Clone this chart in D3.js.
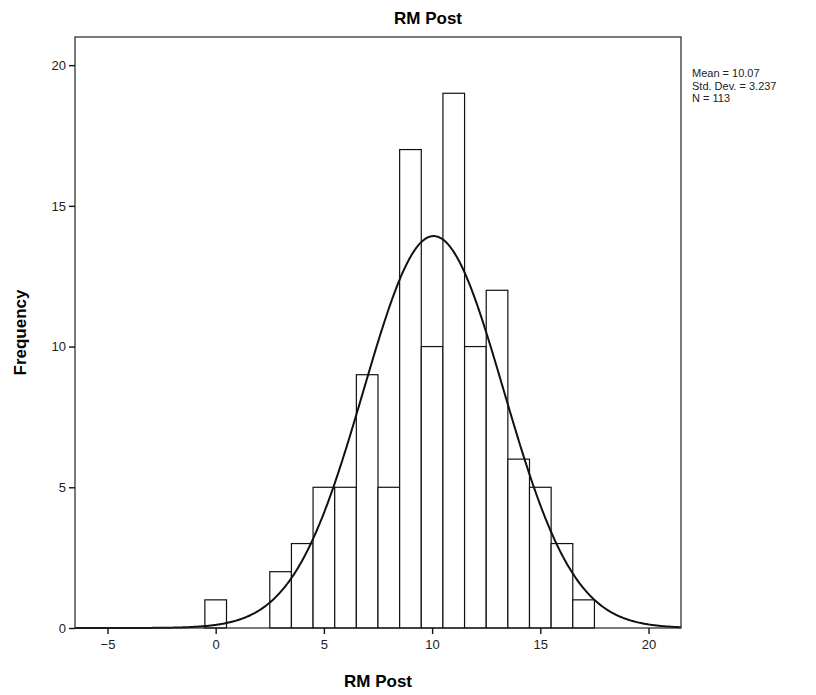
<!DOCTYPE html>
<html><head><meta charset="utf-8">
<script src="https://cdn.jsdelivr.net/npm/d3@7/dist/d3.min.js"></script>
<style>body{margin:0;background:#fff}svg{display:block}</style>
</head><body>
<script>
const binCenters = [0,1,2,3,4,5,6,7,8,9,10,11,12,13,14,15,16,17];
const counts     = [1,0,0,2,3,5,5,9,5,17,10,19,10,12,6,5,3,1];
const xTicks = [-5,0,5,10,15,20];
const yTicks = [0,5,10,15,20];
const statsLines = ["Mean = 10.07","Std. Dev. = 3.237","N = 113"];
const mean = 10.07, sd = 3.237, n = 113, binWidth = 1;

const W = 816, H = 695;
const m = {left:75, right:681, top:37, bottom:628};
const svg = d3.select("body").append("svg").attr("width",W).attr("height",H);
const x = d3.scaleLinear().domain([-6.5,21.5]).range([m.left,m.right]);
const y = d3.scaleLinear().domain([0,21]).range([m.bottom,m.top]);

// bars
svg.append("g").selectAll("rect").data(binCenters.map((c,i)=>({c,v:counts[i]})).filter(d=>d.v>0))
  .join("rect")
  .attr("x",d=>x(d.c-binWidth/2)).attr("width",d=>x(d.c+binWidth/2)-x(d.c-binWidth/2))
  .attr("y",d=>y(d.v)).attr("height",d=>y(0)-y(d.v))
  .attr("fill","#fff").attr("stroke","#111").attr("stroke-width",1.2);

// normal curve
const pts = d3.range(-6.5,21.5001,0.05).map(v=>[v, n*binWidth/(sd*Math.sqrt(2*Math.PI))*Math.exp(-0.5*((v-mean)/sd)**2)]);
svg.append("path").datum(pts)
  .attr("d",d3.line().x(d=>x(d[0])).y(d=>y(d[1])))
  .attr("fill","none").attr("stroke","#111").attr("stroke-width",2);

// frame
svg.append("rect").attr("x",m.left).attr("y",m.top).attr("width",m.right-m.left).attr("height",m.bottom-m.top)
  .attr("fill","none").attr("stroke","#222").attr("stroke-width",1.2);

// axes
const xa = svg.append("g").attr("transform",`translate(0,${m.bottom})`)
  .call(d3.axisBottom(x).tickValues(xTicks).tickSize(6).tickSizeOuter(0).tickPadding(6));
const ya = svg.append("g").attr("transform",`translate(${m.left},0)`)
  .call(d3.axisLeft(y).tickValues(yTicks).tickSize(6).tickSizeOuter(0).tickPadding(3));
[xa,ya].forEach(a=>{
  a.select(".domain").remove();
  a.selectAll("line").attr("stroke","#111").attr("stroke-width",1.4);
  a.selectAll("text").attr("font-family","Liberation Sans, Arial, sans-serif").attr("font-size",13).attr("fill","#222");
});

// titles
svg.append("text").attr("x",428).attr("y",24).attr("text-anchor","middle")
  .attr("font-family","Liberation Sans, Arial, sans-serif").attr("font-weight","bold").attr("font-size",17)
  .text("RM Post");
svg.append("text").attr("x",(m.left+m.right)/2).attr("y",687).attr("text-anchor","middle")
  .attr("font-family","Liberation Sans, Arial, sans-serif").attr("font-weight","bold").attr("font-size",17)
  .text("RM Post");
svg.append("text").attr("transform",`translate(26,${(m.top+m.bottom)/2}) rotate(-90)`).attr("text-anchor","middle")
  .attr("font-family","Liberation Sans, Arial, sans-serif").attr("font-weight","bold").attr("font-size",17)
  .text("Frequency");

// stats
svg.append("g").selectAll("text").data(statsLines).join("text")
  .attr("x",692).attr("y",(d,i)=>77+i*12.5)
  .attr("font-family","Liberation Sans, Arial, sans-serif").attr("font-size",11).attr("fill","#222")
  .text(d=>d);
</script>
</body></html>
